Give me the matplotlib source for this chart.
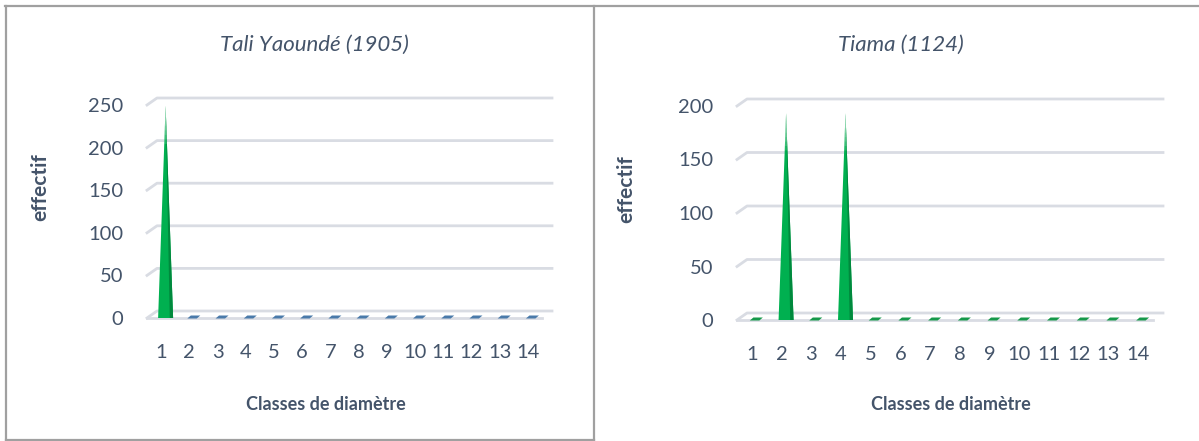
import numpy as np
import matplotlib.pyplot as plt
from matplotlib.patches import Polygon
from matplotlib.lines import Line2D

plt.rcParams['font.family'] = ['Lato', 'DejaVu Sans']

classes = list(range(1, 15))
tali = [245, 0, 0, 0, 0, 0, 0, 0, 0, 0, 0, 0, 0, 0]
tiama = [0, 190, 0, 190, 0, 0, 0, 0, 0, 0, 0, 0, 0, 0]

TXT = '#44546a'
GRID = '#d9dce3'
GREEN = '#00b050'
GREEN_DK = '#00893d'

W, H = 1199, 441
fig = plt.figure(figsize=(W / 100, H / 100), dpi=100)


def cone(ax, xc, top, hw, frac_dark=0.45):
    apex = (xc, top)
    ax.add_patch(Polygon([(xc - hw, 0), (xc + hw, 0), apex], closed=True,
                         fc=GREEN, ec='none', clip_on=False, zorder=3))
    ax.add_patch(Polygon([(xc + (1 - frac_dark) * hw, 0), (xc + hw, 0), apex], closed=True,
                         fc=GREEN_DK, ec='none', clip_on=False, zorder=4))
    # light fade toward the tip
    for f in np.linspace(0.82, 0.97, 8):
        y = f * top
        w = hw * (1 - f)
        ax.add_patch(Polygon([(xc - w, y), (xc + w, y), apex], closed=True,
                             fc='white', alpha=0.12, ec='none', clip_on=False, zorder=5))


def panel(rect_px, data, ymax, yticks, zero_col, title, title_xy, ylab_xy, xlab_xy):
    x0, y0, x1, y1 = rect_px  # front floor corners in pixels (y from top)
    ax = fig.add_axes([x0 / W, (H - y1) / H, (x1 - x0) / W, (y1 - y0) / H])
    ax.set_xlim(0.5, 14.5)
    ax.set_ylim(0, ymax)
    for s in ax.spines.values():
        s.set_visible(False)
    ax.set_facecolor('none')

    ppx = (x1 - x0) / 14.0      # pixels per class
    ppy = (y1 - y0) / ymax      # pixels per unit
    dx, dy = 10 / ppx, 7 / ppy  # depth offset of the back wall

    # back wall gridlines + side wall stubs
    for v in yticks:
        ax.add_line(Line2D([0.5, 0.5 + dx, 14.5 + dx], [v, v + dy, v + dy],
                           color=GRID, lw=2, clip_on=False, zorder=1))
    # front edge of the floor
    ax.add_line(Line2D([0.5, 14.5], [0, 0], color=GRID, lw=2, clip_on=False, zorder=1))

    for c, v in zip(classes, data):
        xc = c + 0.45 * dx
        if v > 0:
            cone(ax, xc, v + 0.5 * dy, 7.5 / ppx)
        else:
            a, b = 6.5 / ppx, 3.0 / ppx
            lo, hi = -0.5 / ppy, 2.5 / ppy
            ax.add_patch(Polygon([(xc - a, lo), (xc + b, lo), (xc + a, hi), (xc - b, hi)],
                                 closed=True, fc=zero_col, ec='none', clip_on=False, zorder=3))

    ax.set_yticks(yticks)
    ax.set_xticks(classes)
    ax.tick_params(length=0, labelsize=14.5, labelcolor=TXT)
    ax.tick_params(axis='y', pad=17)
    ax.tick_params(axis='x', pad=19)
    for t in ax.get_yticklabels():
        t.set_va('center_baseline')

    fig.text(title_xy[0] / W, 1 - title_xy[1] / H, title, ha='center', va='center',
             fontsize=16, style='italic', color=TXT)
    fig.text(ylab_xy[0] / W, 1 - ylab_xy[1] / H, 'effectif', ha='center', va='center',
             rotation=90, fontsize=15, fontweight='bold', color=TXT)
    fig.text(xlab_xy[0] / W, 1 - xlab_xy[1] / H, 'Classes de diamètre', ha='center',
             va='center', fontsize=13, fontweight='bold', color=TXT)
    return ax


panel((147, 105, 542, 318), tali, 250, [0, 50, 100, 150, 200, 250], '#4a7aaa',
      'Tali Yaoundé (1905)', (314, 45), (40, 187), (326, 404))
panel((737, 106, 1153, 320), tiama, 200, [0, 50, 100, 150, 200], '#16994a',
      'Tiama (1124)', (901, 45), (626, 189), (951, 404))

# chart frames
frame = dict(color='#a0a0a0', lw=1.6, transform=fig.transFigure)
fig.add_artist(Line2D([5 / W, 1], [1 - 6 / H, 1 - 6 / H], **frame))
fig.add_artist(Line2D([6 / W, 6 / W], [1 - 6 / H, 1 - 440 / H], **frame))
fig.add_artist(Line2D([594 / W, 594 / W], [1 - 6 / H, 1 - 440 / H], **frame))
fig.add_artist(Line2D([6 / W, 594 / W], [1 - 440 / H, 1 - 440 / H], **frame))

fig.savefig('out.png', dpi=100)
